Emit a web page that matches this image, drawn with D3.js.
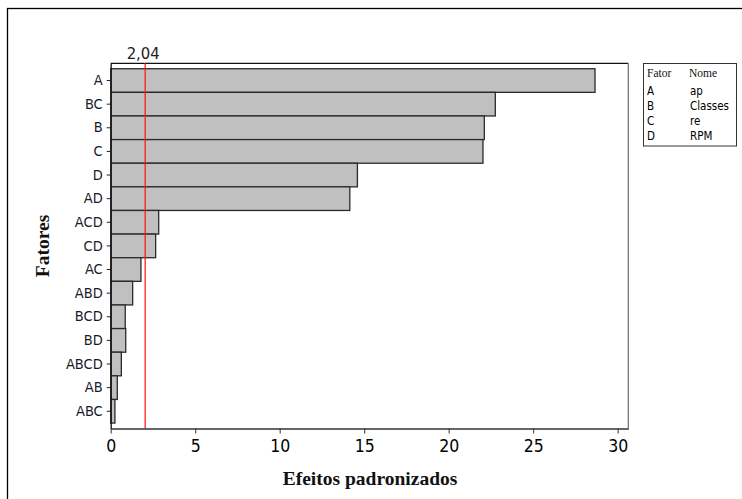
<!DOCTYPE html>
<html>
<head>
<meta charset="utf-8">
<script src="https://cdn.jsdelivr.net/npm/d3@7/dist/d3.min.js"></script>
<style>
  html, body { margin: 0; padding: 0; background: #fff; }
  svg { display: block; }
  .sans { font-family: "DejaVu Sans Condensed", "DejaVu Sans", sans-serif; font-stretch: condensed; }
  .serif { font-family: "Liberation Serif", "Times New Roman", serif; }
</style>
</head>
<body>
<svg id="chart" width="742" height="499"></svg>
<script>
// Pareto of standardized effects
const factors = ["A", "BC", "B", "C", "D", "AD", "ACD", "CD", "AC", "ABD", "BCD", "BD", "ABCD", "AB", "ABC"];
const effects = [28.66, 22.76, 22.11, 22.03, 14.6, 14.15, 2.84, 2.66, 1.79, 1.30, 0.86, 0.89, 0.63, 0.39, 0.25];
const criticalValue = 2.04;
const criticalLabel = "2,04";
const xTicks = [0, 5, 10, 15, 20, 25, 30];
const legendCodes = ["A", "B", "C", "D"];
const legendNames = ["ap", "Classes", "re", "RPM"];

const svg = d3.select("#chart");

// outer frame
svg.append("rect")
  .attr("x", 7.5).attr("y", 8.5)
  .attr("width", 760).attr("height", 520)
  .attr("fill", "none").attr("stroke", "#000").attr("stroke-width", 1.3);

const plot = { left: 110.7, top: 63.3, right: 628.3, bottom: 428.5 };

const x = d3.scaleLinear()
  .domain([0, 30.63])
  .range([plot.left, plot.right]);

const y = d3.scaleBand()
  .domain(factors)
  .range([plot.top, plot.bottom])
  .paddingInner(0)
  .paddingOuter(0.23);

// plot frame (top and right)
svg.append("line")
  .attr("x1", plot.left).attr("x2", plot.right)
  .attr("y1", plot.top).attr("y2", plot.top)
  .attr("stroke", "#111").attr("stroke-width", 1.2);
svg.append("line")
  .attr("x1", plot.right).attr("x2", plot.right)
  .attr("y1", plot.top).attr("y2", plot.bottom)
  .attr("stroke", "#777").attr("stroke-width", 1.3);

// bars
svg.append("g")
  .selectAll("rect")
  .data(factors)
  .join("rect")
  .attr("x", x(0))
  .attr("y", d => y(d))
  .attr("width", (d, i) => x(effects[i]) - x(0))
  .attr("height", y.bandwidth())
  .attr("fill", "#c0c0c0")
  .attr("stroke", "#2a2a2a")
  .attr("stroke-width", 1.3);

// reference line
svg.append("line")
  .attr("x1", x(criticalValue)).attr("x2", x(criticalValue))
  .attr("y1", plot.top).attr("y2", plot.bottom)
  .attr("stroke", "#ff1010").attr("stroke-width", 1.2);

svg.append("text")
  .attr("class", "sans")
  .attr("x", x(criticalValue) - 2)
  .attr("y", 59)
  .attr("text-anchor", "middle")
  .attr("font-size", 16.5)
  .attr("fill", "#222")
  .text(criticalLabel);

// x axis
const xAxis = svg.append("g")
  .attr("transform", `translate(0,${plot.bottom})`)
  .call(d3.axisBottom(x).tickValues(xTicks).tickSize(5).tickSizeOuter(0).tickPadding(6));
xAxis.select(".domain").attr("stroke", "#333").attr("stroke-width", 1.3);
xAxis.selectAll(".tick line").attr("stroke", "#333");
xAxis.selectAll(".tick text")
  .attr("class", "sans")
  .attr("font-size", 17.5)
  .attr("fill", "#000");

// y axis
const yAxis = svg.append("g")
  .attr("transform", `translate(${plot.left},0)`)
  .call(d3.axisLeft(y).tickSize(4).tickSizeOuter(0).tickPadding(4));
yAxis.select(".domain").attr("stroke", "#111").attr("stroke-width", 1.3);
yAxis.selectAll(".tick line").attr("stroke", "#222");
yAxis.selectAll(".tick text")
  .attr("class", "sans")
  .attr("font-size", 14.5)
  .attr("fill", "#1a1a2a");

// axis titles
svg.append("text")
  .attr("class", "serif")
  .attr("x", 370).attr("y", 485)
  .attr("text-anchor", "middle")
  .attr("font-weight", "bold")
  .attr("font-size", 19.5)
  .attr("fill", "#111")
  .text("Efeitos padronizados");

svg.append("text")
  .attr("class", "serif")
  .attr("transform", "translate(49,246) rotate(-90)")
  .attr("text-anchor", "middle")
  .attr("font-weight", "bold")
  .attr("font-size", 19.5)
  .attr("fill", "#111")
  .text("Fatores");

// factor legend
const legend = svg.append("g");
legend.append("rect")
  .attr("x", 643.5).attr("y", 63.5)
  .attr("width", 93).attr("height", 82.5)
  .attr("fill", "#fff").attr("stroke", "#333").attr("stroke-width", 1);
legend.append("text").attr("class", "serif")
  .attr("x", 647).attr("y", 77).attr("font-size", 11.5).attr("fill", "#111")
  .text("Fator");
legend.append("text").attr("class", "serif")
  .attr("x", 689).attr("y", 77).attr("font-size", 11.5).attr("fill", "#111")
  .text("Nome");
legendCodes.forEach((c, i) => {
  const yy = 94.5 + i * 15.2;
  legend.append("text").attr("class", "sans")
    .attr("x", 647).attr("y", yy).attr("font-size", 11.5).attr("fill", "#000")
    .text(c);
  legend.append("text").attr("class", "sans")
    .attr("x", 690).attr("y", yy).attr("font-size", 11.5).attr("fill", "#000")
    .text(legendNames[i]);
});
</script>
</body>
</html>
